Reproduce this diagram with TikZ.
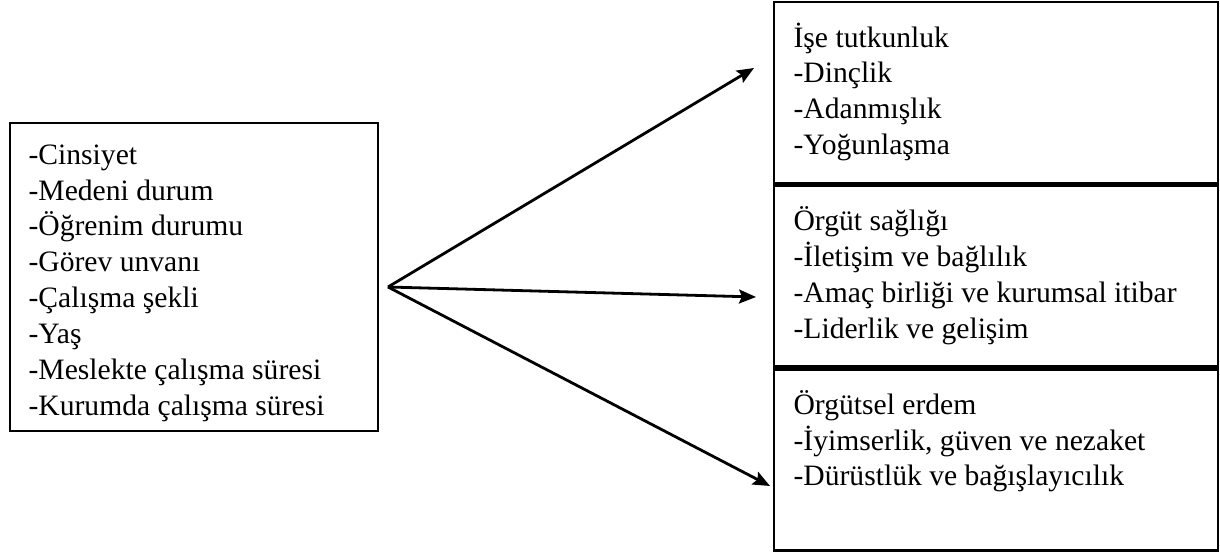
\documentclass[tikz,border=0pt]{standalone}
\usepackage{fontspec}
\setmainfont{Liberation Serif}
\usetikzlibrary{positioning,arrows.meta}

\tikzset{
  listbox/.style={draw, line width=2.8pt, inner sep=0pt, outer sep=0.5\pgflinewidth},
  listtext/.style={align=left, inner sep=0pt, outer sep=0pt,
    font=\fontsize{29.6}{35.9}\selectfont, execute at begin node=\strut},
}

\begin{document}
\begin{tikzpicture}[x=1pt, y=1pt, >={Stealth[length=17pt,width=14pt,inset=3pt]}, line width=2.8pt]
  \useasboundingbox (0,0) rectangle (1220,552);

  % 1. sol kutu
  \node[listbox, minimum width=368pt, minimum height=308pt] (demog) at (194,275) {};
  \node[listtext, below right=23pt and 20pt of demog.north west] (demogtext)
    {-Cinsiyet\\-Medeni durum\\-Öğrenim durumu\\-Görev unvanı\\-Çalışma şekli\\-Yaş\\-Meslekte çalışma süresi\\-Kurumda çalışma süresi};

  % 2. sağ kutular
  \node[listbox, minimum width=444pt, minimum height=181pt] (tutku) at (996,459.5) {};
  \node[listbox, minimum width=444pt, minimum height=181pt, below=0pt of tutku] (saglik) {};
  \node[listbox, minimum width=444pt, minimum height=181pt, below=0pt of saglik] (erdem) {};

  \node[listtext, below right=22pt and 21pt of tutku.north west] (tutkutext)
    {İşe tutkunluk\\-Dinçlik\\-Adanmışlık\\-Yoğunlaşma};
  \node[listtext, below right=22pt and 21pt of saglik.north west] (saglikext)
    {Örgüt sağlığı\\-İletişim ve bağlılık\\-Amaç birliği ve kurumsal itibar\\-Liderlik ve gelişim};
  \node[listtext, below right=22pt and 21pt of erdem.north west] (erdemtext)
    {Örgütsel erdem\\-İyimserlik, güven ve nezaket\\-Dürüstlük ve bağışlayıcılık};

  % 3. oklar
  \coordinate (kaynak) at (388,265);
  \coordinate (ok1) at (754,484);
  \coordinate (ok2) at (756,255);
  \coordinate (ok3) at (770,66);
  \draw[->] (kaynak) -- (ok1);
  \draw[->] (kaynak) -- (ok2);
  \draw[->] (kaynak) -- (ok3);
\end{tikzpicture}
\end{document}
